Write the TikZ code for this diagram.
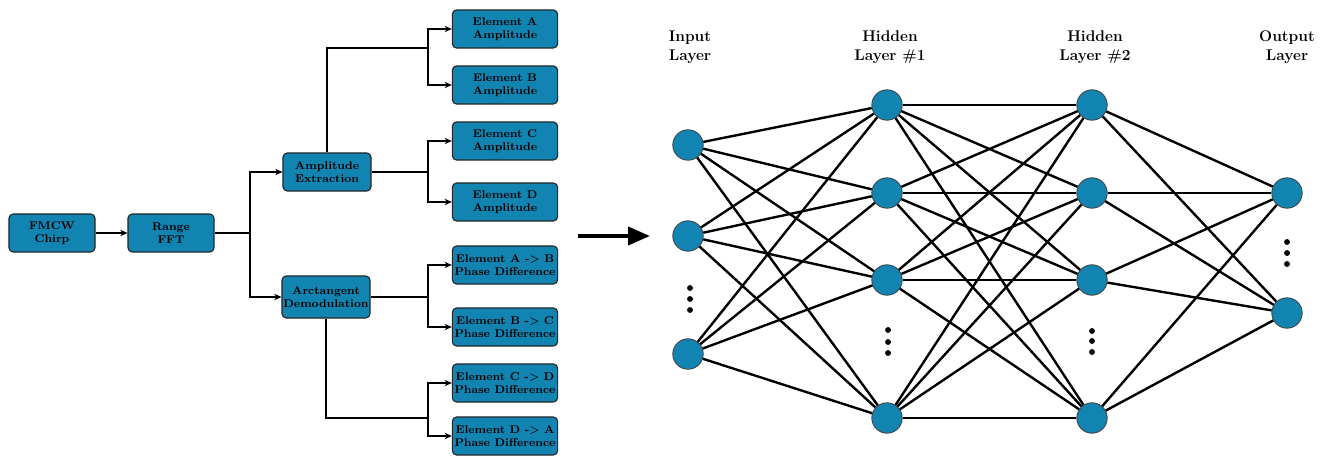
\documentclass[tikz,border=0pt]{standalone}
\usepackage{tikz}
\usetikzlibrary{arrows.meta,positioning,calc}
\definecolor{nnblue}{RGB}{18,132,178}
\tikzset{
  box/.style={draw=black!85,fill=nnblue,rounded corners=3pt,align=center,font=\footnotesize\bfseries,minimum width=2.15cm,minimum height=0.95cm,inner sep=1pt,line width=0.8pt},
  ebox/.style={box,minimum width=2.63cm},
  neuron/.style={circle,draw=black!75,fill=nnblue,minimum size=0.76cm,inner sep=0pt,line width=0.6pt},
  arr/.style={-{Stealth[length=1.8mm,width=1.6mm]},line width=0.8pt},
  wire/.style={line width=1.7pt},
  lbl/.style={font=\fontsize{11}{13.5}\selectfont\bfseries,align=center},
}
\begin{document}
\begin{tikzpicture}[x=0.025cm,y=-0.025cm]
\useasboundingbox (0,0) rectangle (1328,458);
% signal processing chain
\node[box] (chirp) at (52,233) {FMCW\\Chirp};
\node[box] (fft) at (171,233) {Range\\FFT};
\node[box,minimum width=2.2cm] (amp) at (327,172) {Amplitude\\Extraction};
\node[box,minimum height=1.05cm] (atan) at (326,297) {Arctangent\\Demodulation};
\node[ebox] (ea) at (505,29) {Element A\\Amplitude};
\node[ebox] (eb) at (505,85) {Element B\\Amplitude};
\node[ebox] (ec) at (505,141) {Element C\\Amplitude};
\node[ebox] (ed) at (505,202) {Element D\\Amplitude};
\node[ebox] (pab) at (505,265) {Element A -> B\\Phase Difference};
\node[ebox] (pbc) at (505,327) {Element B -> C\\Phase Difference};
\node[ebox] (pcd) at (505,383) {Element C -> D\\Phase Difference};
\node[ebox] (pda) at (505,436) {Element D -> A\\Phase Difference};
\coordinate (s1) at (250,233);
\coordinate (ja) at (428,48);
\coordinate (jb) at (428,172);
\coordinate (jc) at (428,297);
\coordinate (jd) at (428,418);
\draw[arr] (chirp) -- (fft);
\draw[line width=0.8pt] (fft) -- (s1);
\draw[arr] (s1) |- (amp);
\draw[arr] (s1) |- (atan);
\draw[line width=0.8pt] (amp.north) |- (ja);
\draw[line width=0.8pt] (amp) -- (jb);
\draw[line width=0.8pt] (atan) -- (jc);
\draw[line width=0.8pt] (atan.south) |- (jd);
\draw[arr] (ja) |- (ea);
\draw[arr] (ja) |- (eb);
\draw[arr] (jb) |- (ec);
\draw[arr] (jb) |- (ed);
\draw[arr] (jc) |- (pab);
\draw[arr] (jc) |- (pbc);
\draw[arr] (jd) |- (pcd);
\draw[arr] (jd) |- (pda);
% big arrow
\coordinate (bigA) at (578,236);
\coordinate (bigB) at (650,236);
\draw[-{Triangle[length=5.5mm,width=4.5mm]},line width=2.8pt] (bigA) -- (bigB);
% network
\foreach \y [count=\i] in {145,236,354} \node[neuron] (i\i) at (688,\y) {};
\foreach \y [count=\i] in {105,193,280,418} \node[neuron] (h\i) at (887,\y) {};
\foreach \y [count=\i] in {105,193,280,418} \node[neuron] (k\i) at (1092,\y) {};
\foreach \y [count=\i] in {193,313} \node[neuron] (o\i) at (1287,\y) {};
\foreach \a in {1,2,3} \foreach \b in {1,...,4} \draw[wire] (i\a) -- (h\b);
\foreach \a in {1,...,4} \foreach \b in {1,...,4} \draw[wire] (h\a) -- (k\b);
\foreach \a in {1,...,4} \foreach \b in {1,2} \draw[wire] (k\a) -- (o\b);
\foreach \y in {288,299,310} \fill (690,\y) circle[radius=2.1pt];
\foreach \y in {330,342,353} \fill (888,\y) circle[radius=2.1pt];
\foreach \y in {331,341,352} \fill (1092,\y) circle[radius=2.1pt];
\foreach \y in {242,253,264} \fill (1287,\y) circle[radius=2.1pt];
\node[lbl] (tin) at (690,47) {Input\\Layer};
\node[lbl] (th1) at (890,47) {Hidden\\Layer \#1};
\node[lbl] (th2) at (1095,47) {Hidden\\Layer \#2};
\node[lbl] (tout) at (1287,47) {Output\\Layer};
\end{tikzpicture}
\end{document}
